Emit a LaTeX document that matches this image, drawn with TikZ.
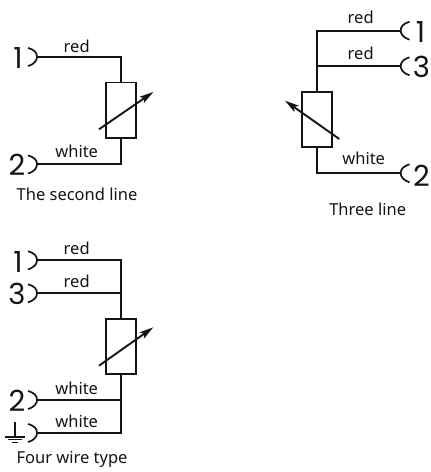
\documentclass[tikz,border=0pt]{standalone}
\usepackage{fontspec}
\setmainfont{Noto Sans}
\newfontfamily\digitfont{Poppins}
\usetikzlibrary{arrows.meta}
\definecolor{ink}{gray}{0.08}
\tikzset{
  wire/.style={draw=ink,line width=1.9bp},
  resbox/.style={draw=ink,line width=1.9bp,rectangle,minimum width=30bp,minimum height=55.5bp,inner sep=0pt,outer sep=0pt},
  trim/.style={draw=ink,line width=1.9bp,-{Stealth[length=14bp,width=7.5bp,inset=3bp]}},
  brace/.style={draw=ink,line width=1.7bp},
  lbl/.style={text=ink,font=\fontsize{16.5bp}{19bp}\selectfont,inner sep=0pt},
  captiontext/.style={text=ink,font=\fontsize{16.5bp}{19bp}\selectfont,inner sep=0pt},
  num/.style={text=ink,font=\fontsize{29bp}{31bp}\digitfont,inner sep=0pt},
}
\begin{document}
\begin{tikzpicture}[x=1bp,y=-1bp]
\useasboundingbox (0,0) rectangle (430,472);
% ---------- second line
\node[resbox] (ra) at (121,110.3) {};
\coordinate (ta1) at (37,56.7);
\coordinate (ta2) at (37,164);
\coordinate (ca1) at (121,56.7);
\coordinate (ca2) at (121,164);
\draw[wire] (ta1) -- (ca1) -- (ra.north);
\draw[wire] (ta2) -- (ca2) -- (ra.south);
\coordinate (aa1) at (99,129.3);
\coordinate (aa2) at (153.3,92);
\draw[trim] (aa1) -- (aa2);
\draw[brace] (28,48) .. controls (35,50) and (37,53) .. (ta1) .. controls (37,60) and (35,64) .. (28,66);
\draw[brace] (28,155.5) .. controls (35,157.5) and (37,160.5) .. (ta2) .. controls (37,167.5) and (35,171.5) .. (28,173.5);
\node[num] (na1) at (18,58) {1};
\node[num] (na2) at (17,165) {2};
\node[lbl] (la1) at (76.7,46.7) {red};
\node[lbl] (la2) at (76.7,151.5) {white};
\node[captiontext] (ca) at (77,194) {The second line};
% ---------- three line
\node[resbox] (rb) at (317,119.7) {};
\coordinate (tb1) at (400.7,30.7);
\coordinate (tb3) at (400.7,66.3);
\coordinate (tb2) at (400.7,173.3);
\coordinate (cb1) at (317,30.7);
\coordinate (cb3) at (317,66.3);
\coordinate (cb2) at (317,173.3);
\draw[wire] (tb1) -- (cb1) -- (rb.north);
\draw[wire] (tb3) -- (cb3);
\draw[wire] (tb2) -- (cb2) -- (rb.south);
\coordinate (ab1) at (339.3,139);
\coordinate (ab2) at (285,100.7);
\draw[trim] (ab1) -- (ab2);
\foreach \t/\y in {tb1/30.7,tb3/66.3,tb2/173.3}{
  \draw[brace] (409.5,\y-9) .. controls (403,\y-7) and (400.7,\y-4) .. (\t) .. controls (400.7,\y+3) and (403,\y+7) .. (409.5,\y+9);
}
\node[num] (nb1) at (420.5,32) {1};
\node[num] (nb3) at (421.5,67) {3};
\node[num] (nb2) at (421.5,175.5) {2};
\node[lbl] (lb1) at (360.7,17) {red};
\node[lbl] (lb3) at (360.7,53) {red};
\node[lbl] (lb2) at (363.7,158.5) {white};
\node[captiontext] (cb) at (367.7,209) {Three line};
% ---------- four wire
\node[resbox] (rc) at (121,346.5) {};
\coordinate (tc1) at (37,260.3);
\coordinate (tc3) at (37,293.3);
\coordinate (tc2) at (37,400);
\coordinate (tc4) at (37,433);
\coordinate (cc1) at (121,260.3);
\coordinate (cc3) at (121,293.3);
\coordinate (cc2) at (121,400);
\coordinate (cc4) at (121,433);
\draw[wire] (tc1) -- (cc1) -- (rc.north);
\draw[wire] (tc3) -- (cc3);
\draw[wire] (tc2) -- (cc2);
\draw[wire] (tc4) -- (cc4) -- (rc.south);
\coordinate (ac1) at (99,365.7);
\coordinate (ac2) at (153.3,327.3);
\draw[trim] (ac1) -- (ac2);
\foreach \t/\y in {tc1/260.3,tc3/293.3,tc2/400,tc4/433}{
  \draw[brace] (28,\y-9) .. controls (35,\y-7) and (37,\y-4) .. (\t) .. controls (37,\y+3) and (35,\y+7) .. (28,\y+9);
}
\node[num] (nc1) at (18,261.7) {1};
\node[num] (nc3) at (17,294) {3};
\node[num] (nc2) at (17,401) {2};
\draw[brace] (14.7,422) -- (14.7,436.7);
\draw[brace] (4.7,436.7) -- (25,436.7);
\draw[brace] (8.3,439.6) -- (21.7,439.6);
\draw[brace] (12,442.4) -- (18,442.4);
\node[lbl] (lc1) at (76.7,248.3) {red};
\node[lbl] (lc3) at (76.7,281) {red};
\node[lbl] (lc2) at (76.7,388) {white};
\node[lbl] (lc4) at (76.7,421) {white};
\node[captiontext] (cc) at (72,459) {Four wire type};
\end{tikzpicture}
\end{document}
